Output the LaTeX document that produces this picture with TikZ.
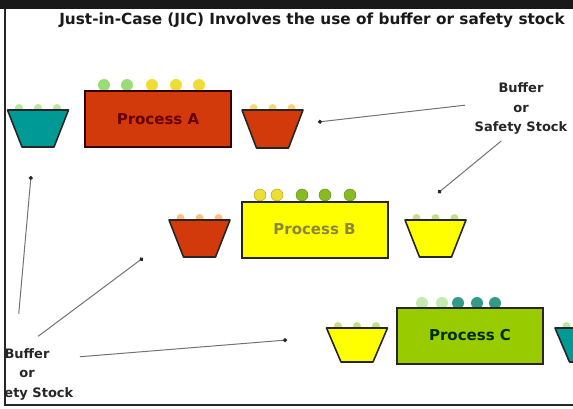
\documentclass[tikz,border=0pt]{standalone}
\usepackage{fontspec}
\setmainfont{DejaVu Sans}
\usetikzlibrary{arrows.meta}
\definecolor{redA}{HTML}{D23A0C}
\definecolor{yelB}{HTML}{FFFF00}
\definecolor{grnC}{HTML}{99CC00}
\definecolor{tealbin}{HTML}{009A96}
\definecolor{ballgrn}{HTML}{99DD77}
\definecolor{ballyel}{HTML}{EEDD33}
\definecolor{ballolv}{HTML}{88BB22}
\definecolor{ballteal}{HTML}{339988}
\newcommand{\stockbin}[5]{%
  \foreach \dx in {-19,0,19} \fill[#4] (#1+\dx,#2-2) circle (4pt);
  \draw[bin,fill=#3] (#1-30.5,#2) -- (#1+30.5,#2) -- (#1+16,#2+#5) -- (#1-16,#2+#5) -- cycle;}
\begin{document}
\begin{tikzpicture}[x=1pt,y=-1pt,
    proc/.style={draw=black!85, line width=2pt, minimum width=146pt, minimum height=56pt, inner sep=0pt, font=\bfseries\fontsize{15}{18}\selectfont},
    bin/.style={draw=black!85, line width=1.6pt, line join=round},
    lbl/.style={align=center, font=\bfseries\fontsize{13}{19.5}\selectfont, text=black!85},
    pointer/.style={draw=black!55, line width=1pt, -{Circle[length=4pt,color=black!85]}}]
    \useasboundingbox (0,0) rectangle (573,409);
    \begin{scope}
    \clip (6,9) rectangle (573,404);
    \node[font=\bfseries\fontsize{15.3}{18}\selectfont, text=black!90] (ttl) at (312,20) {Just-in-Case (JIC) Involves the use of buffer or safety stock};
    \stockbin{38}{110}{tealbin}{ballgrn!70}{37}
    \foreach \x/\c in {104/ballgrn,127/ballgrn,152/ballyel,176/ballyel,199/ballyel} \fill[\c] (\x,85) circle (6pt);
    \node[proc, draw=black!80!red, fill=redA, text=black!60!red] (procA) at (158,119.5) {Process A};
    \stockbin{272.5}{110}{redA}{ballyel!60!orange!60}{38}
    \stockbin{199.5}{220}{redA}{orange!50}{37}
    \foreach \x/\c in {260/ballyel,277/ballyel,302/ballolv,325/ballolv,350/ballolv} \filldraw[\c, draw=black!30!\c] (\x,195) circle (6pt);
    \node[proc, fill=yelB, text=black!30!olive!80!white] (procB) at (314.5,229.5) {Process B};
    \stockbin{435.5}{220}{yelB}{ballolv!50}{37}
    \stockbin{357}{328}{yelB}{ballolv!50}{34}
    \foreach \x/\c in {422/ballgrn!60,442/ballgrn!60,458/ballteal,477/ballteal,495/ballteal} \fill[\c] (\x,303) circle (6pt);
    \node[proc, fill=grnC, text=black!70!green!60!black] (procC) at (470,335.5) {Process C};
    \stockbin{585.5}{328}{tealbin}{ballgrn!70}{34}
    \coordinate (dA) at (318,122);
    \coordinate (dB) at (438,193);
    \coordinate (dL1) at (31,176);
    \coordinate (dL2) at (143,258);
    \coordinate (dL3) at (287,340);
    \node[lbl] (bufR) at (521,108.5) {Buffer\\or\\Safety Stock};
    \node[lbl] (bufL) at (27,374) {Buffer\\or\\Safety Stock};
    \draw[pointer, shorten <=6pt] ([shift={(0,-4)}]bufR.west) -- (dA);
    \draw[pointer, shorten <=5pt] ([shift={(-16,0)}]bufR.south) -- (dB);
    \draw[pointer, shorten <=31pt] ([shift={(-11,0)}]bufL.north) -- (dL1);
    \draw[pointer, shorten <=14pt] (bufL.north) -- (dL2);
    \draw[pointer, shorten <=3pt] ([shift={(0,-17)}]bufL.east) -- (dL3);
    \end{scope}
    \fill[black!90] (0,0) rectangle (573,9);
    \draw[line width=2pt, black!85] (5,9) -- (5,405) -- (573,405);
\end{tikzpicture}
\end{document}
